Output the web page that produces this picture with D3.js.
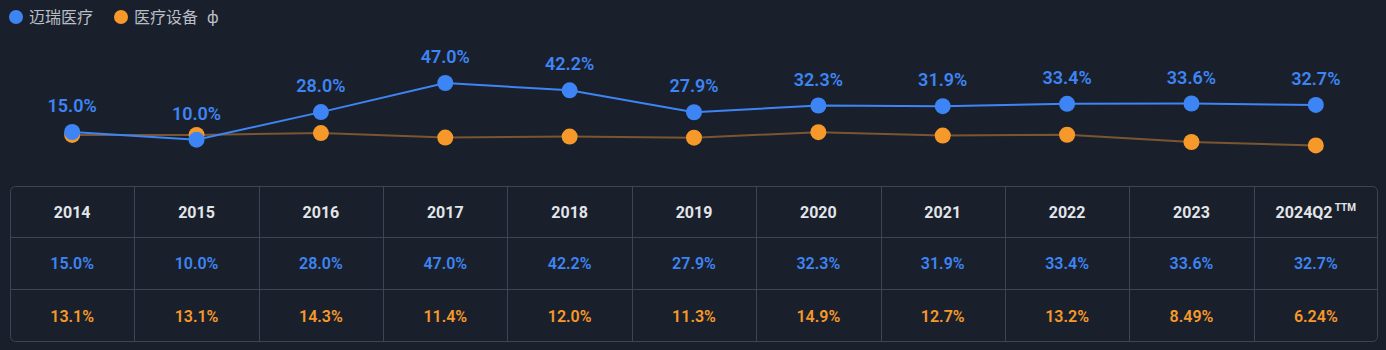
<!DOCTYPE html>
<html>
<head>
<meta charset="utf-8">
<script src="https://cdn.jsdelivr.net/npm/d3@7"></script>
<style>
  html, body { margin: 0; padding: 0; background: #1a202b; }
  svg { display: block; }
</style>
</head>
<body>
<svg width="1386" height="350"></svg>
<script>
const categories = ["2014", "2015", "2016", "2017", "2018", "2019", "2020", "2021", "2022", "2023", "2024Q2"];
const mindray = [15.0, 10.0, 28.0, 47.0, 42.2, 27.9, 32.3, 31.9, 33.4, 33.6, 32.7];
const industry = [13.1, 13.1, 14.3, 11.4, 12.0, 11.3, 14.9, 12.7, 13.2, 8.49, 6.24];
const mindrayLabels = ["15.0%", "10.0%", "28.0%", "47.0%", "42.2%", "27.9%", "32.3%", "31.9%", "33.4%", "33.6%", "32.7%"];
const industryLabels = ["13.1%", "13.1%", "14.3%", "11.4%", "12.0%", "11.3%", "14.9%", "12.7%", "13.2%", "8.49%", "6.24%"];
const seriesNames = ["迈瑞医疗", "医疗设备"];

const blue = "#3d85f5";
const orange = "#f7992a";
const font = "Roboto, 'Noto Sans CJK SC', sans-serif";

const svg = d3.select("svg");

// legend
const legend = svg.append("g").attr("font-family", font);
const legendX = [16, 121];
[blue, orange].forEach((c, i) => {
  legend.append("circle").attr("cx", legendX[i]).attr("cy", 17).attr("r", 7).attr("fill", c);
  legend.append("text")
    .attr("x", legendX[i] + 13).attr("y", 23)
    .attr("fill", "#b8bdc6").attr("font-size", 16)
    .text(seriesNames[i]);
});
legend.append("text")
  .attr("x", 207).attr("y", 23)
  .attr("fill", "#b8bdc6").attr("font-size", 16)
  .text("ф");

// table geometry
const table = { left: 10, right: 1378, top: 186, rows: [186, 237, 289, 342] };
const x = d3.scaleBand().domain(categories).range([table.left, table.right]);
const cx = d => x(d) + x.bandwidth() / 2;

// chart
const y = d3.scaleLinear().domain([0, 47]).range([155, 83]);

const line = d3.line().x((d, i) => cx(categories[i])).y(d => y(d));

svg.append("path").datum(industry)
  .attr("fill", "none").attr("stroke", "#7a5532").attr("stroke-width", 2)
  .attr("d", line);
svg.selectAll(".dot-o").data(industry).join("circle")
  .attr("class", "dot-o")
  .attr("cx", (d, i) => cx(categories[i])).attr("cy", d => y(d))
  .attr("r", 8).attr("fill", orange);

svg.append("path").datum(mindray)
  .attr("fill", "none").attr("stroke", blue).attr("stroke-width", 2)
  .attr("d", line);
svg.selectAll(".dot-b").data(mindray).join("circle")
  .attr("class", "dot-b")
  .attr("cx", (d, i) => cx(categories[i])).attr("cy", d => y(d))
  .attr("r", 8).attr("fill", blue);

svg.selectAll(".lbl").data(mindray).join("text")
  .attr("class", "lbl")
  .attr("x", (d, i) => cx(categories[i])).attr("y", d => y(d) - 20)
  .attr("text-anchor", "middle")
  .attr("font-family", font).attr("font-size", 18).attr("font-weight", 600)
  .attr("fill", blue)
  .text((d, i) => mindrayLabels[i]);

// table
const tg = svg.append("g");
const th = table.rows[3] - table.top;
tg.append("rect")
  .attr("x", table.left + 0.5).attr("y", table.top + 0.5)
  .attr("width", table.right - table.left - 1).attr("height", th - 1)
  .attr("rx", 5).attr("fill", "none").attr("stroke", "#3e4451");
[table.rows[1], table.rows[2]].forEach(ry => {
  tg.append("line")
    .attr("x1", table.left).attr("x2", table.right)
    .attr("y1", ry + 0.5).attr("y2", ry + 0.5)
    .attr("stroke", "#3e4451");
});
categories.slice(1).forEach(c => {
  tg.append("line")
    .attr("x1", Math.round(x(c)) + 0.5).attr("x2", Math.round(x(c)) + 0.5)
    .attr("y1", table.top).attr("y2", table.rows[3])
    .attr("stroke", "#3e4451");
});

const rowMid = i => (table.rows[i] + table.rows[i + 1]) / 2 + 6;
const header = tg.selectAll(".hdr").data(categories).join("text")
  .attr("class", "hdr")
  .attr("x", d => cx(d)).attr("y", rowMid(0))
  .attr("text-anchor", "middle")
  .attr("font-family", font).attr("font-size", 16).attr("font-weight", 700)
  .attr("fill", "#e2e5ea")
  .text(d => d);
header.filter((d, i) => i === categories.length - 1)
  .append("tspan").attr("dy", -7).attr("font-size", 10).text(" TTM");

tg.selectAll(".v1").data(mindrayLabels).join("text")
  .attr("class", "v1")
  .attr("x", (d, i) => cx(categories[i])).attr("y", rowMid(1))
  .attr("text-anchor", "middle")
  .attr("font-family", font).attr("font-size", 16).attr("font-weight", 600)
  .attr("fill", blue)
  .text(d => d);

tg.selectAll(".v2").data(industryLabels).join("text")
  .attr("class", "v2")
  .attr("x", (d, i) => cx(categories[i])).attr("y", rowMid(2))
  .attr("text-anchor", "middle")
  .attr("font-family", font).attr("font-size", 16).attr("font-weight", 600)
  .attr("fill", orange)
  .text(d => d);
</script>
</body>
</html>
